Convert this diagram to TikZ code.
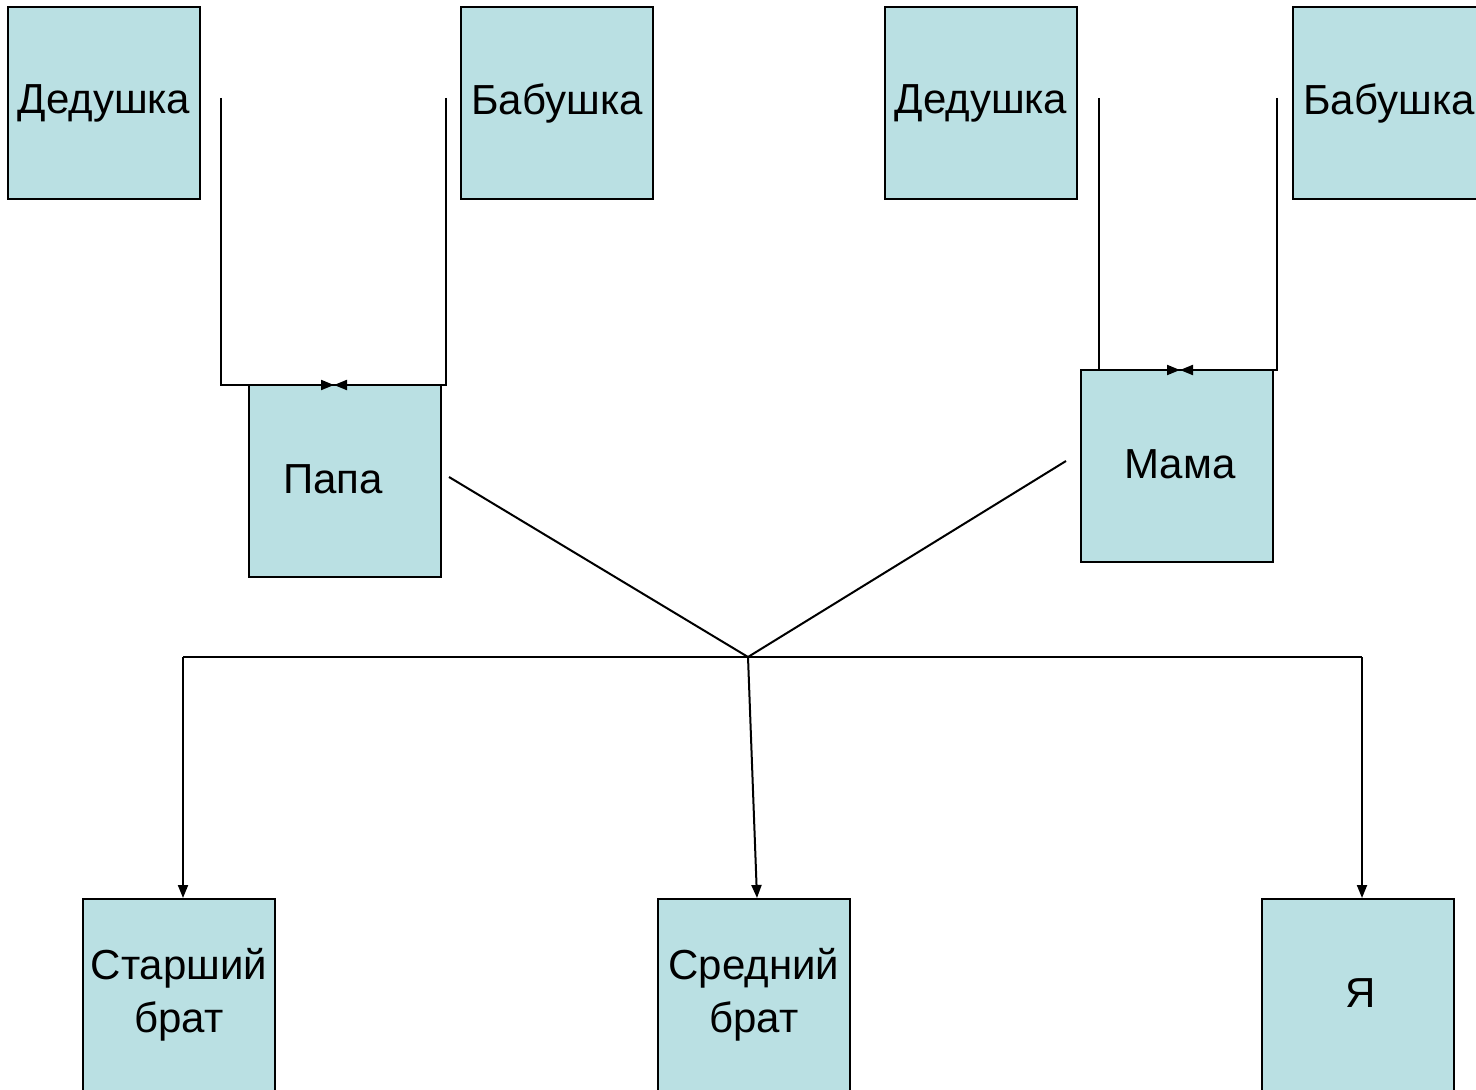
\documentclass[tikz,border=0pt]{standalone}
\usepackage{fontspec}
\setmainfont{Liberation Sans}
\usetikzlibrary{arrows.meta}
\definecolor{boxblue}{HTML}{BAE0E3}
\begin{document}
\begin{tikzpicture}[x=0.5pt,y=-0.5pt,
  box/.style={draw=black,line width=1pt,fill=boxblue,minimum width=96pt,minimum height=96pt,inner sep=0pt,align=center,font=\fontsize{21}{25.5}\selectfont},
  conn/.style={draw=black,line width=1pt},
  arr/.style={conn,-{Triangle[length=6.5pt,width=5pt]}}]
\useasboundingbox (0,0) rectangle (1476,1090);
\clip (0,0) rectangle (1476,1090);
\node[box] (d1) at (104,103.5) {Дедушка};
\node[box] (b1) at (557,103.5) {Бабушка};
\node[box] (d2) at (981,103.5) {Дедушка};
\node[box] (b2) at (1389,103.5) {Бабушка};
\node[box] (papa) at (345,481) {\raisebox{2pt}{Папа}\hspace{12pt}};
\node[box] (mama) at (1177,466) {\hspace{3pt}\raisebox{2pt}{Мама}};
\node[box] (s1) at (179,995) {\raisebox{1pt}{Старший}\\брат};
\node[box] (s2) at (754,995) {\raisebox{1pt}{Средний}\\брат};
\node[box] (me) at (1358,995) {\hspace{3pt}\raisebox{1.5pt}{Я}};
\coordinate (p1) at (221,98);
\coordinate (p2) at (446,98);
\coordinate (m1) at (1099,98);
\coordinate (m2) at (1277,98);
\coordinate (pt) at (334,385);
\coordinate (mt) at (1180,370);
\coordinate (hub) at (748,657);
\coordinate (hl) at (183,657);
\coordinate (hr) at (1362,657);
\coordinate (pa) at (449,477);
\coordinate (ma) at (1066,461);
\draw[arr] (p1) |- (pt);
\draw[arr] (p2) |- (pt);
\draw[arr] (m1) |- (mt);
\draw[arr] (m2) |- (mt);
\draw[conn] (pa) -- (hub) -- (ma);
\draw[conn] (hl) -- (hr);
\draw[arr] (hl) -- (hl |- s1.north);
\draw[arr] (hr) -- (hr |- me.north);
\draw[arr] (hub) -- ([xshift=1.5pt]s2.north);
\end{tikzpicture}
\end{document}
